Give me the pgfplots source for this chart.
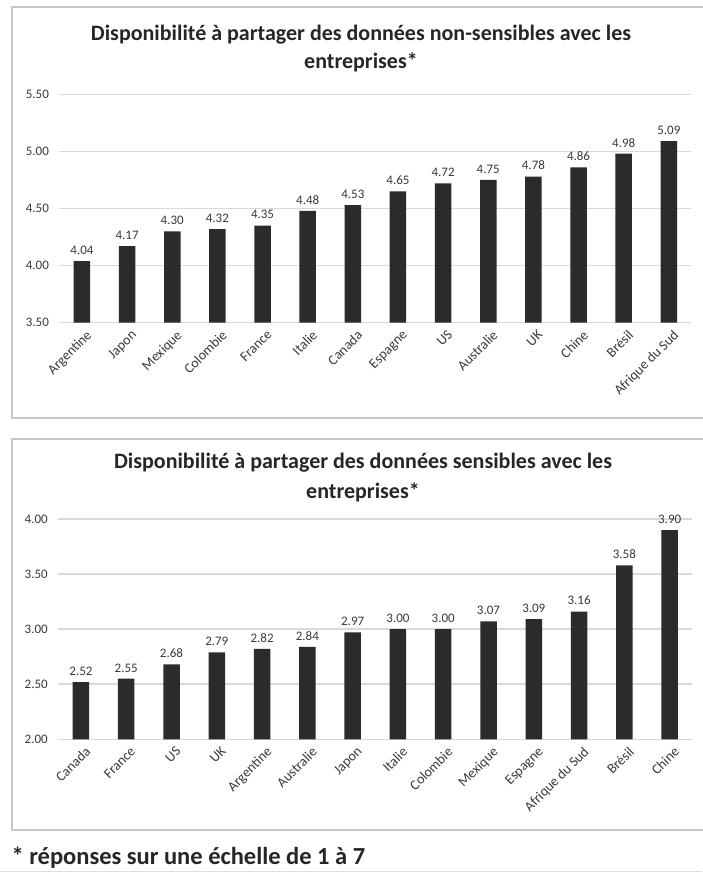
\documentclass[border=0pt]{standalone}
\usepackage{fontspec}
\setmainfont{Carlito}
\usepackage{pgfplots}
\pgfplotsset{compat=1.18}

\definecolor{barc}{HTML}{2B2B2B}
\definecolor{gridc}{HTML}{D9D9D9}
\definecolor{framec}{HTML}{C8C8C8}
\definecolor{labc}{HTML}{3A3A3A}

\pgfplotsset{
  panel/.style={
    scale only axis,
    ybar, bar width=16.5pt,
    xmin=-0.5, xmax=13.5,
    enlargelimits=false,
    axis line style={draw=none},
    major tick length=0pt,
    ymajorgrids, grid style={gridc, line width=1.5pt},
    xtick=data,
    ytick distance=0.5,
    yticklabel style={/pgf/number format/fixed, /pgf/number format/fixed zerofill,
      /pgf/number format/precision=2, font=\fontsize{13}{15}\selectfont, text=labc,
      xshift=-7pt},
    /pgf/number format/assume math mode=true,
    xticklabel style={rotate=45, anchor=north east, font=\fontsize{14}{16}\selectfont,
      text=labc, inner sep=2pt, yshift=-5pt},
    nodes near coords,
    nodes near coords style={/pgf/number format/fixed, /pgf/number format/fixed zerofill,
      /pgf/number format/precision=2, font=\fontsize{13}{15}\selectfont, text=labc,
      yshift=3pt},
  }
}

\begin{document}
\begin{tikzpicture}[x=1pt, y=1pt]
\path[use as bounding box, fill=white] (0,0) rectangle (702,874);

% panel frames
\draw[framec, line width=2pt] (704,867) -- (12,867) -- (12,456) -- (704,456);
\draw[framec, line width=2pt] (704,435) -- (12,435) -- (12,44) -- (704,44);
\draw[framec!60, line width=1pt] (0,2) -- (702,2);

% titles
\node[font=\bfseries\fontsize{22}{24}\selectfont, text=black!85] at (361,839)
  {Disponibilité à partager des données non-sensibles avec les};
\node[font=\bfseries\fontsize{22}{24}\selectfont, text=black!85] at (361,812) {entreprises*};
\node[font=\bfseries\fontsize{22}{24}\selectfont, text=black!85] at (363,411)
  {Disponibilité à partager des données sensibles avec les};
\node[font=\bfseries\fontsize{22}{24}\selectfont, text=black!85] at (363,382) {entreprises*};

% footnote
\node[anchor=west, font=\bfseries\fontsize{24.5}{26}\selectfont, text=black!85] at (8,16)
  {* réponses sur une échelle de 1 à 7};

% non-sensitive data
\begin{axis}[panel,
  at={(59.4pt,551.3pt)}, anchor=south west,
  width=632pt, height=228.4pt,
  ymin=3.5, ymax=5.5,
  xticklabels={Argentine, Japon, Mexique, Colombie, France, Italie, Canada,
    Espagne, US, Australie, UK, Chine, Brésil, Afrique du Sud},
]
\addplot[fill=barc, draw=none] coordinates {
  (0,4.04) (1,4.17) (2,4.30) (3,4.32) (4,4.35) (5,4.48) (6,4.53)
  (7,4.65) (8,4.72) (9,4.75) (10,4.78) (11,4.86) (12,4.98) (13,5.09)
};
\end{axis}

% sensitive data
\begin{axis}[panel,
  at={(58.3pt,134.7pt)}, anchor=south west,
  width=634pt, height=220.3pt,
  ymin=2, ymax=4,
  xticklabels={Canada, France, US, UK, Argentine, Australie, Japon, Italie,
    Colombie, Mexique, Espagne, Afrique du Sud, Brésil, Chine},
]
\addplot[fill=barc, draw=none] coordinates {
  (0,2.52) (1,2.55) (2,2.68) (3,2.79) (4,2.82) (5,2.84) (6,2.97)
  (7,3.00) (8,3.00) (9,3.07) (10,3.09) (11,3.16) (12,3.58) (13,3.90)
};
\end{axis}
\end{tikzpicture}
\end{document}
